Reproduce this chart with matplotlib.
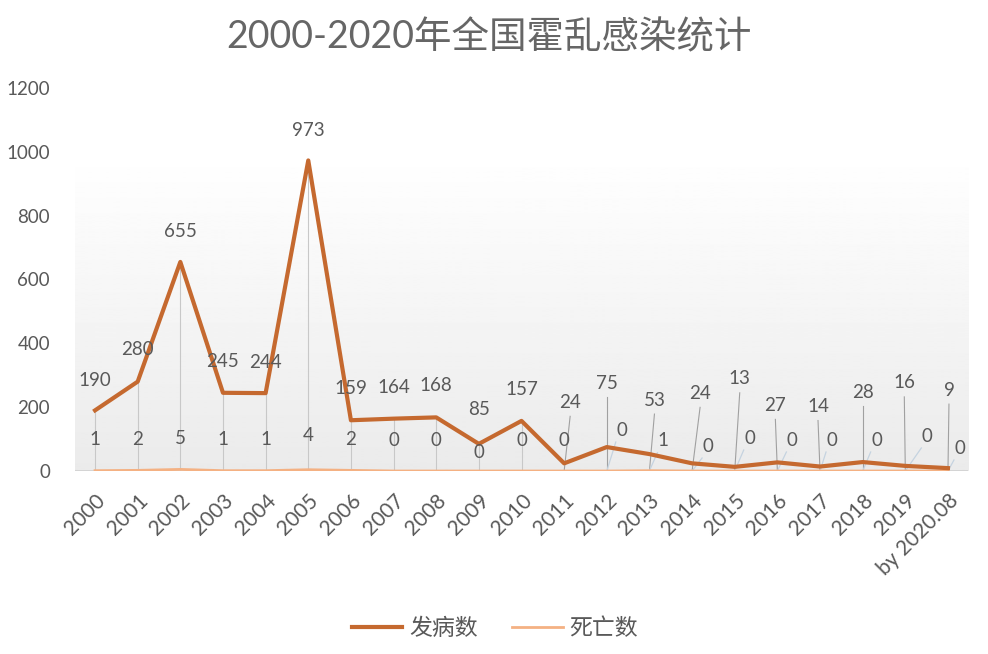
import numpy as np
import matplotlib.pyplot as plt

plt.rcParams['font.family'] = ['Lato', 'Noto Sans CJK SC', 'DejaVu Sans']

years = ['2000', '2001', '2002', '2003', '2004', '2005', '2006', '2007', '2008', '2009',
         '2010', '2011', '2012', '2013', '2014', '2015', '2016', '2017', '2018', '2019',
         'by 2020.08']
cases = [190, 280, 655, 245, 244, 973, 159, 164, 168, 85,
         157, 24, 75, 53, 24, 13, 27, 14, 28, 16, 9]
deaths = [1, 2, 5, 1, 1, 4, 2, 0, 0, 0,
          0, 0, 0, 1, 0, 0, 0, 0, 0, 0, 0]

# label offsets in pixels (dx, dy)
case_off = [(0, 30), (0, 32), (0, 30), (0, 31), (0, 31), (0, 30), (0, 32), (0, 31), (0, 32), (0, 34),
            (0, 31), (6, 61), (0, 64), (5, 54), (8, 70), (5, 88), (-2, 57), (-2, 60), (0, 70), (-1, 83), (1, 78)]
death_off = [(0, 31), (0, 31), (0, 31), (0, 31), (0, 31), (0, 34), (0, 31), (0, 31), (0, 31), (0, 18),
             (0, 31), (0, 31), (15, 41), (14, 30), (16, 25), (15, 33), (15, 31), (12, 31), (14, 31), (22, 35), (12, 23)]

CASE_C = '#c5692f'
DEATH_C = '#f4b183'
TXT = '#595959'


def main():
    fig = plt.figure(figsize=(9.88, 6.54), dpi=100)
    ax = fig.add_axes([75 / 988, (654 - 471) / 654, 893 / 988, 383 / 654])
    x = np.arange(len(years))
    ax.set_xlim(-0.47, 20.47)
    ax.set_ylim(0, 1200)

    # gradient background of the plot area
    grad = np.linspace(0.92, 1.0, 256).reshape(-1, 1)
    ax.imshow(grad, extent=[-0.47, 20.47, 0, 1000], aspect='auto', cmap='gray',
              vmin=0, vmax=1, origin='lower', zorder=0)

    ax.axhline(0, color='#d0d0d0', lw=1.2, zorder=1)

    # drop / leader lines
    for i in range(len(years)):
        if i <= 10:
            ax.plot([x[i], x[i]], [0, cases[i]], color='#c8c8c8', lw=0.8, zorder=1)
        else:
            dx, dy = case_off[i]
            p0 = ax.transData.transform((x[i], cases[i]))
            top = ax.transData.inverted().transform((p0[0] + dx, p0[1] + dy - 14))
            ax.plot([top[0], x[i]], [top[1], 0], color='#a0a0a0', lw=0.8, zorder=1)
        if i >= 12:
            dx, dy = death_off[i]
            p0 = ax.transData.transform((x[i], deaths[i]))
            a = ax.transData.inverted().transform((p0[0] + dx - 6, p0[1] + dy - 12))
            ax.plot([a[0], x[i]], [a[1], deaths[i]], color='#c5d3e0', lw=0.9, zorder=1)

    ax.plot(x, deaths, color=DEATH_C, lw=2, zorder=2, label='死亡数')
    ax.plot(x, cases, color=CASE_C, lw=3, zorder=3, label='发病数')

    for i in range(len(years)):
        ax.annotate(str(cases[i]), (x[i], cases[i]), xytext=case_off[i],
                    textcoords='offset pixels', ha='center', va='center',
                    fontsize=13.5, color=TXT, zorder=4)
        ax.annotate(str(deaths[i]), (x[i], deaths[i]), xytext=death_off[i],
                    textcoords='offset pixels', ha='center', va='center',
                    fontsize=13.5, color=TXT, zorder=4)

    ax.set_yticks(np.arange(0, 1201, 200))
    ax.set_xticks(x)
    ax.set_xticklabels(years, rotation=45, ha='right', rotation_mode='anchor')
    ax.tick_params(axis='both', length=0, labelcolor=TXT)
    ax.tick_params(axis='y', pad=18, labelsize=13.5)
    ax.tick_params(axis='x', pad=14, labelsize=15)
    for s in ax.spines.values():
        s.set_visible(False)

    fig.text(0.495, 0.943, '2000-2020年全国霍乱感染统计', ha='center', va='center',
             fontsize=27, color='#666666')

    h, l = ax.get_legend_handles_labels()
    fig.legend(h[::-1], l[::-1], loc='center', bbox_to_anchor=(0.501, 1 - 628 / 654),
               ncol=2, frameon=False, fontsize=16.5, handlelength=2.2, handletextpad=0.3,
               columnspacing=1.5, labelcolor=TXT)

    fig.savefig('out.png', dpi=100)


if __name__ == '__main__':
    main()
